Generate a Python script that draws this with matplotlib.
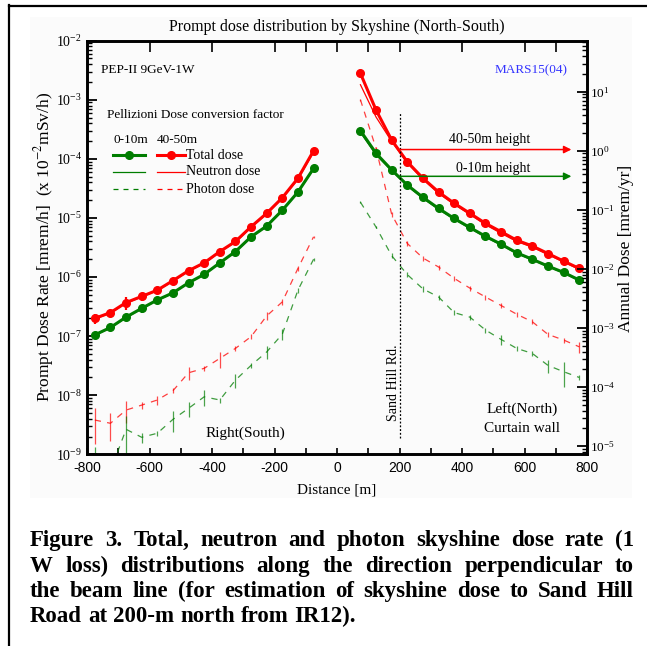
import numpy as np
import matplotlib
matplotlib.use("Agg")
import matplotlib.pyplot as plt
from matplotlib.lines import Line2D
from matplotlib.patches import Rectangle
from matplotlib.ticker import LogLocator, MultipleLocator, NullFormatter

plt.rcParams['font.family'] = ['Liberation Serif', 'DejaVu Serif']
plt.rcParams['mathtext.fontset'] = 'stix'

# distances [m]
x_south = [-775, -725, -675, -625, -575, -525, -475, -425, -375, -325, -275, -225, -175, -125, -75]
x_north = [75, 125, 175, 225, 275, 325, 375, 425, 475, 525, 575, 625, 675, 725, 775]
x_ticks = [-800, -600, -400, -200, 0, 200, 400, 600, 800]
x_ticklabels = ['-800', '-600', '-400', '-200', '0', '200', '400', '600', '800']

# prompt dose rate [mrem/h], 40-50m height (red)
total_hi_s = [2.0e-7, 2.5e-7, 3.7e-7, 4.7e-7, 6.0e-7, 8.7e-7, 1.28e-6, 1.74e-6, 2.7e-6, 4.0e-6, 7.1e-6, 1.2e-5, 2.2e-5, 4.7e-5, 1.37e-4]
total_hi_n = [2.8e-3, 6.7e-4, 2.08e-4, 8.9e-5, 4.7e-5, 2.75e-5, 1.77e-5, 1.2e-5, 8.1e-6, 5.85e-6, 4.2e-6, 3.35e-6, 2.5e-6, 1.86e-6, 1.4e-6]
neutron_hi_s = [1.95e-7, 2.45e-7, 3.6e-7, 4.6e-7, 5.9e-7, 8.5e-7, 1.25e-6, 1.7e-6, 2.65e-6, 3.9e-6, 6.9e-6, 1.17e-5, 2.15e-5, 4.5e-5, 1.3e-4]
neutron_hi_n = [1.8e-3, 5.1e-4, 1.97e-4, 8.5e-5, 4.5e-5, 2.6e-5, 1.7e-5, 1.15e-5, 7.7e-6, 5.5e-6, 4.0e-6, 3.2e-6, 2.4e-6, 1.8e-6, 1.35e-6]
photon_hi_s = [3.8e-9, 3.35e-9, 5.6e-9, 6.8e-9, 8.3e-9, 1.19e-8, 2.4e-8, 2.85e-8, 4.2e-8, 6.2e-8, 9.8e-8, 2.2e-7, 3.8e-7, 1.4e-6, 4.8e-6]
photon_hi_n = [1.0e-3, 1.5e-4, 1.15e-5, 3.7e-6, 2.1e-6, 1.48e-6, 9.5e-7, 6.5e-7, 4.6e-7, 3.3e-7, 2.35e-7, 1.75e-7, 1.07e-7, 8.6e-8, 6.6e-8]

# 0-10m height (green)
total_lo_s = [1.05e-7, 1.4e-7, 2.1e-7, 2.95e-7, 4.1e-7, 5.4e-7, 8.0e-7, 1.11e-6, 1.74e-6, 2.7e-6, 4.8e-6, 7.3e-6, 1.35e-5, 2.75e-5, 6.9e-5]
total_lo_n = [3.0e-4, 1.24e-4, 6.5e-5, 3.6e-5, 2.23e-5, 1.45e-5, 9.8e-6, 6.9e-6, 4.9e-6, 3.6e-6, 2.57e-6, 2.0e-6, 1.53e-6, 1.2e-6, 8.9e-7]
neutron_lo_s = [1.03e-7, 1.38e-7, 2.05e-7, 2.9e-7, 4.05e-7, 5.3e-7, 7.9e-7, 1.1e-6, 1.72e-6, 2.65e-6, 4.75e-6, 7.2e-6, 1.33e-5, 2.7e-5, 6.7e-5]
neutron_lo_n = [2.8e-4, 1.17e-4, 6.3e-5, 3.5e-5, 2.15e-5, 1.4e-5, 9.5e-6, 6.7e-6, 4.75e-6, 3.5e-6, 2.5e-6, 1.95e-6, 1.5e-6, 1.17e-6, 8.7e-7]
photon_lo_s = [7e-10, 5.2e-10, 2.65e-9, 1.94e-9, 2.27e-9, 3.9e-9, 6.0e-9, 9.4e-9, 8.3e-9, 1.8e-8, 3.2e-8, 5.4e-8, 1.08e-7, 6.0e-7, 2.0e-6]
photon_lo_n = [1.85e-5, 7.0e-6, 2.3e-6, 1.1e-6, 6.3e-7, 4.6e-7, 2.5e-7, 2.1e-7, 1.27e-7, 8.8e-8, 6.2e-8, 5.1e-8, 3.2e-8, 2.5e-8, 2.0e-8]

# relative statistical errors
err_total_hi_s = [0.2, 0.1, 0.25, 0.15, 0.08, 0.08, 0.08, 0.08, 0.08, 0.08, 0.05, 0.05, 0.05, 0.05, 0.05]
err_total_lo_s = [0.05, 0.05, 0.15, 0.15, 0.05, 0.05, 0.05, 0.1, 0.05, 0.05, 0.05, 0.05, 0.05, 0.05, 0.05]
err_total_n = [0.05] * 15
err_photon_hi_s = [0.6, 0.5, 0.4, 0.15, 0.18, 0.1, 0.25, 0.1, 0.3, 0.1, 0.1, 0.15, 0.1, 0.1, 0.05]
err_photon_lo_s = [0.9, 0.3, 0.7, 0.2, 0.1, 0.4, 0.28, 0.3, 0.1, 0.25, 0.1, 0.25, 0.2, 0.1, 0.05]
err_photon_hi_n = [0.05, 0.05, 0.1, 0.1, 0.1, 0.1, 0.1, 0.1, 0.1, 0.1, 0.1, 0.1, 0.1, 0.1, 0.2]
err_photon_lo_n = [0.05, 0.05, 0.1, 0.1, 0.1, 0.1, 0.1, 0.1, 0.1, 0.2, 0.1, 0.1, 0.25, 0.45, 0.1]

annual_factor = 7300          # mrem/yr per mrem/h
sand_hill = 200               # m
annual_hi = 1.05              # mrem/yr at Sand Hill Rd., 40-50m
annual_lo = 0.37              # mrem/yr at Sand Hill Rd., 0-10m

RED = '#ff0000'
GREEN = '#007d00'

fig = plt.figure(figsize=(6.47, 6.46), dpi=100)
W, H = 647, 646

# figure frame and chart background
fig.add_artist(Rectangle((30 / W, 1 - 498 / H), 602 / W, 481 / H, transform=fig.transFigure,
                         facecolor='#fbfbfb', edgecolor='none', zorder=-10))
fig.add_artist(Line2D([8.5 / W, 8.5 / W], [0, 1 - 5 / H], transform=fig.transFigure, color='black', lw=1.6))
fig.add_artist(Line2D([8.5 / W, 1], [1 - 5.5 / H, 1 - 5.5 / H], transform=fig.transFigure, color='black', lw=1.6))

ax = fig.add_axes([87 / W, 1 - 454.3 / H, 500 / W, 413.6 / H])
ax.patch.set_alpha(0)
ax.set_yscale('log')
ax.set_xlim(-800, 800)
ax.set_ylim(1e-9, 1e-2)


def draw(xs, tot, etot, neu, pho, epho, color):
    tot = np.array(tot); pho = np.array(pho)
    ax.errorbar(xs, tot, yerr=tot * np.array(etot), fmt='-o', color=color, lw=2.2, ms=5.5,
                elinewidth=1.6, capsize=0, zorder=4)
    ax.plot(xs, neu, '-', color=color, lw=0.9, zorder=3)
    ax.errorbar(xs, pho, yerr=pho * np.array(epho), fmt='none', ecolor=color, elinewidth=0.9,
                capsize=0, alpha=0.7, zorder=2)
    ax.plot(xs, pho, '--', color=color, lw=0.9, dashes=(5, 5), alpha=0.75, zorder=2)


draw(x_south, total_hi_s, err_total_hi_s, neutron_hi_s, photon_hi_s, err_photon_hi_s, RED)
draw(x_south, total_lo_s, err_total_lo_s, neutron_lo_s, photon_lo_s, err_photon_lo_s, GREEN)
draw(x_north, total_hi_n, err_total_n, neutron_hi_n, photon_hi_n, err_photon_hi_n, RED)
draw(x_north, total_lo_n, err_total_n, neutron_lo_n, photon_lo_n, err_photon_lo_n, GREEN)

# Sand Hill Rd.
ax.plot([sand_hill, sand_hill], [1.9e-9, 5.9e-4], color='black', lw=0.9, ls=(0, (1.5, 1.5)), zorder=5)
ax.text(sand_hill - 18, 1.6e-8, 'Sand Hill Rd.', rotation=90, ha='center', va='center', fontsize=10)

# axes styling
for s in ax.spines.values():
    s.set_linewidth(1.9)
ax.set_xticks(x_ticks, labels=x_ticklabels, fontfamily=['Liberation Sans', 'DejaVu Sans'])
ax.xaxis.set_minor_locator(MultipleLocator(100))
ax.tick_params(axis='x', which='both', direction='in', length=4.5, width=1.2, top=False,
               labelsize=10, pad=5)
ax.yaxis.set_major_locator(LogLocator(base=10, numticks=20))
ax.yaxis.set_minor_locator(LogLocator(base=10, subs=np.arange(2, 10), numticks=20))
ax.yaxis.set_minor_formatter(NullFormatter())
ax.tick_params(axis='y', which='major', direction='in', length=7, width=1.3, labelsize=10, right=False)
ax.tick_params(axis='y', which='minor', direction='in', length=3.5, width=1.0, right=False)

top = ax.secondary_xaxis('top')
top.set_xticks([-600, -400, -200, -100, 0, 100, 200, 400, 600, 700])
top.tick_params(direction='in', length=8, width=1.2, labeltop=False)

ax2 = ax.twinx()
ax2.set_yscale('log')
ax2.set_ylim(1e-9 * annual_factor, 1e-2 * annual_factor)
ax2.yaxis.set_major_locator(LogLocator(base=10, numticks=20))
ax2.yaxis.set_minor_locator(LogLocator(base=10, subs=np.arange(2, 10), numticks=20))
ax2.yaxis.set_minor_formatter(NullFormatter())
ax2.tick_params(axis='y', which='major', direction='in', length=7, width=1.3, labelsize=9.5, pad=2)
ax2.tick_params(axis='y', which='minor', direction='in', length=3.5, width=1.0)
for s in ax2.spines.values():
    s.set_linewidth(1.9)

# Sand Hill arrows (annual dose)
ax2.annotate('', xy=(750, annual_hi), xytext=(sand_hill, annual_hi),
             arrowprops=dict(arrowstyle='-|>', color=RED, lw=1.1, mutation_scale=11, shrinkA=0, shrinkB=0))
ax2.annotate('', xy=(750, annual_lo), xytext=(sand_hill, annual_lo),
             arrowprops=dict(arrowstyle='-|>', color=GREEN, lw=1.1, mutation_scale=11, shrinkA=0, shrinkB=0))

def px(xp, yp):
    return (xp - 87) / 500, (454.3 - yp) / 413.6

ax.text(*px(490, 140), '40-50m height', transform=ax.transAxes, ha='center', va='center', fontsize=10)
ax.text(*px(493, 168), '0-10m height', transform=ax.transAxes, ha='center', va='center', fontsize=10)

ax.set_title('Prompt dose distribution by Skyshine (North-South)', fontsize=11.5, pad=7)
ax.set_xlabel('Distance [m]', fontsize=11, labelpad=6)
fig.text(44 / W, 1 - 247 / H, 'Prompt Dose Rate [mrem/h]  (x 10$^{-2}$mSv/h)', rotation=90,
         ha='center', va='center', fontsize=12.5)
fig.text(626 / W, 1 - 248 / H, 'Annual Dose [mrem/yr]', rotation=90,
         ha='center', va='center', fontsize=12.5)

ax.text(*px(101, 70), 'PEP-II 9GeV-1W', transform=ax.transAxes, va='center', fontsize=9.5)
ax.text(*px(568, 70), 'MARS15(04)', transform=ax.transAxes, va='center', ha='right',
        fontsize=9.5, color='#3333ff')
ax.text(*px(107, 115), 'Pellizioni Dose conversion factor', transform=ax.transAxes, va='center', fontsize=9.5)
ax.text(*px(113, 140), '0-10m', transform=ax.transAxes, va='center', fontsize=9.5)
ax.text(*px(157, 140), '40-50m', transform=ax.transAxes, va='center', fontsize=9.5)

# legend drawn by hand
rows = [(155, '-', 'o', 'Total dose', 2.2), (171.7, '-', None, 'Neutron dose', 0.9),
        (189.3, '--', None, 'Photon dose', 0.9)]
for yp, ls, mk, label, lw in rows:
    for (x0, x1), c in [((113, 145), GREEN), ((157, 185), RED)]:
        a0, b = px(x0, yp)
        a1, _ = px(x1, yp)
        ln = Line2D([a0, a1], [b, b], transform=ax.transAxes, color=c, lw=lw, ls=ls)
        if ls == '--':
            ln.set_dashes((4, 4))
        ax.add_line(ln)
        if mk:
            ax.plot([(a0 + a1) / 2], [b], marker=mk, ms=5.5, color=c, transform=ax.transAxes)
    ax.text(*px(186, yp), label, transform=ax.transAxes, va='center', fontsize=10)

ax.text(*px(245, 433), 'Right(South)', transform=ax.transAxes, ha='center', va='center', fontsize=11)
ax.text(*px(522, 409), 'Left(North)', transform=ax.transAxes, ha='center', va='center', fontsize=11)
ax.text(*px(522, 428), 'Curtain wall', transform=ax.transAxes, ha='center', va='center', fontsize=11)

# caption, justified
caption = [
    "Figure 3. Total, neutron and photon skyshine dose rate (1",
    "W loss) distributions along the direction perpendicular to",
    "the beam line (for estimation of skyshine dose to Sand Hill",
    "Road at 200-m north from IR12).",
]
renderer = fig.canvas.get_renderer()
left, right = 30, 634
baselines = [546, 572, 597, 622]
cap_size = 16.5
for i, line in enumerate(caption):
    words = line.split(' ')
    texts = [fig.text(0, 1 - baselines[i] / H, w, fontsize=cap_size, fontweight='bold', va='baseline')
             for w in words]
    widths = [t.get_window_extent(renderer).width for t in texts]
    if i < len(caption) - 1:
        gap = (right - left - sum(widths)) / (len(words) - 1)
    else:
        gap = 6
    xp = left
    for t, w in zip(texts, widths):
        t.set_x(xp / W)
        xp += w + gap

fig.savefig('out.png', dpi=100)
